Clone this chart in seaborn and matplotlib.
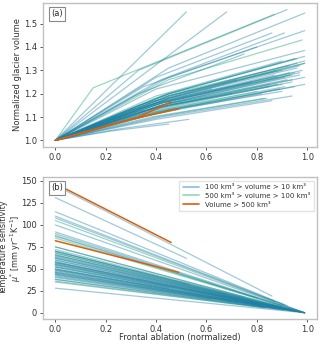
import pandas as pd
import matplotlib
matplotlib.use("Agg")
import matplotlib.pyplot as plt
from matplotlib.lines import Line2D
import seaborn as sns

# 100 km3 > volume > 10 km3
blue_fa_mid = [0.26, 0.34, 0.33, 0.45, 0.40, 0.42, 0.45, 0.40, 0.40, 0.45, 0.40, 0.42, 0.40, 0.35, 0.33,
               0.45, 0.40, 0.42, 0.45, 0.45, 0.42, 0.40, 0.35, 0.45, 0.45, 0.40, 0.42, 0.38, 0.45, 0.42,
               0.40, 0.45, 0.42, 0.45, 0.33, 0.40, 0.45, 0.40, 0.45, 0.26, 0.22, 0.45, 0.40, 0.45, 0.30]
blue_fa_end = [0.52, 0.68, 0.92, 0.99, 0.86, 0.91, 0.99, 0.99, 0.90, 0.97, 0.90, 0.94, 0.86, 0.80, 0.75,
               0.95, 0.88, 0.93, 0.99, 0.97, 0.92, 0.85, 0.78, 0.96, 0.99, 0.89, 0.94, 0.82, 0.98, 0.91,
               0.87, 0.99, 0.93, 0.96, 0.72, 0.90, 0.99, 0.84, 0.95, 0.53, 0.45, 0.99, 0.88, 0.97, 0.62]
blue_vol_mid = [1.275, 1.275, 1.30, 1.31, 1.27, 1.26, 1.27, 1.22, 1.19, 1.18, 1.14, 1.10, 1.09, 1.23, 1.20,
                1.20, 1.17, 1.16, 1.18, 1.16, 1.15, 1.13, 1.14, 1.18, 1.15, 1.12, 1.14, 1.11, 1.17, 1.15,
                1.16, 1.13, 1.16, 1.19, 1.15, 1.12, 1.19, 1.10, 1.13, 1.05, 1.04, 1.20, 1.14, 1.16, 1.13]
blue_vol_end = [1.55, 1.55, 1.56, 1.545, 1.46, 1.46, 1.47, 1.385, 1.34, 1.32, 1.24, 1.19, 1.17, 1.40, 1.37,
                1.35, 1.30, 1.28, 1.33, 1.29, 1.26, 1.23, 1.25, 1.31, 1.27, 1.22, 1.25, 1.20, 1.30, 1.27,
                1.28, 1.24, 1.29, 1.33, 1.26, 1.21, 1.34, 1.18, 1.23, 1.09, 1.07, 1.36, 1.24, 1.28, 1.22]
blue_mu_start = [131, 66, 115, 100, 145, 110, 92, 108, 87, 75, 60, 50, 45, 90, 72,
                 70, 68, 62, 58, 55, 52, 48, 65, 57, 53, 46, 50, 43, 60, 55,
                 47, 40, 58, 62, 44, 38, 64, 36, 42, 70, 52, 28, 49, 56, 41]
blue_mu_end = [62, 21, 8, 0, 19, 9, 0, 0, 8, 1.5, 5.5, 2.5, 6, 17, 17.5,
               2.8, 7.5, 3.8, 0, 1.1, 3.7, 6.8, 13.8, 1.7, 0, 4.6, 2.5, 7.4, 0.6, 4.4,
               5.7, 0, 3.5, 1.9, 12, 3.5, 0, 5.5, 1.7, 32.5, 28.4, 0, 5.4, 1.1, 15.3]

# 500 km3 > volume > 100 km3
green_fa_mid = [0.15, 0.45, 0.42, 0.42, 0.40, 0.40, 0.42, 0.38, 0.45, 0.40, 0.32, 0.42, 0.45, 0.38, 0.42]
green_fa_end = [0.87, 0.98, 0.94, 0.94, 0.90, 0.85, 0.93, 0.80, 0.96, 0.88, 0.70, 0.91, 0.99, 0.83, 0.95]
green_vol_mid = [1.225, 1.26, 1.16, 1.15, 1.18, 1.14, 1.19, 1.12, 1.20, 1.16, 1.12, 1.13, 1.19, 1.10, 1.17]
green_vol_end = [1.54, 1.43, 1.28, 1.26, 1.30, 1.24, 1.32, 1.21, 1.35, 1.27, 1.20, 1.23, 1.33, 1.18, 1.29]
green_mu_start = [105, 88, 75, 70, 85, 63, 68, 57, 54, 49, 44, 38, 66, 35, 46]
green_mu_end = [12.7, 0.9, 3.8, 3.5, 7.7, 8.9, 4.1, 10.9, 1.6, 5.4, 12.9, 3.1, 0, 5.7, 1.9]

# Volume > 500 km3
orange_fa_mid = [0.33, 0.30]
orange_fa_end = [0.46, 0.49]
orange_vol_mid = [1.10, 1.09]
orange_vol_end = [1.165, 1.135]
orange_mu_start = [147, 82]
orange_mu_end = [80, 46]

labels = ["100 km³ > volume > 10 km³", "500 km³ > volume > 100 km³", "Volume > 500 km³"]


def to_frames(cat, fa_mid, fa_end, vol_mid, vol_end, mu_start, mu_end):
    rows_a, rows_b = [], []
    for i in range(len(fa_end)):
        gid = f"{cat}_{i}"
        for j, (x, v) in enumerate(zip([0.0, fa_mid[i], fa_end[i]], [1.0, vol_mid[i], vol_end[i]])):
            rows_a.append({"gid": gid, "step": j, "fa": x, "vol": v})
        for j, (x, m) in enumerate(zip([0.0, fa_end[i]], [mu_start[i], mu_end[i]])):
            rows_b.append({"gid": gid, "step": j, "fa": x, "mu": m})
    return pd.DataFrame(rows_a), pd.DataFrame(rows_b)


blue_a, blue_b = to_frames("b", blue_fa_mid, blue_fa_end, blue_vol_mid, blue_vol_end, blue_mu_start, blue_mu_end)
green_a, green_b = to_frames("g", green_fa_mid, green_fa_end, green_vol_mid, green_vol_end, green_mu_start, green_mu_end)
orange_a, orange_b = to_frames("o", orange_fa_mid, orange_fa_end, orange_vol_mid, orange_vol_end, orange_mu_start, orange_mu_end)

sns.set_style("ticks")
plt.rcParams["font.family"] = ["DejaVu Sans"]
fs = 6

# green drawn first so the blue bundle stays on top, as in the original
styles = [("#45b98c", 0.55, 0.9), ("#1f7fa5", 0.42, 0.9), ("#d95f0e", 1.0, 1.1)]
frames_a = [green_a, blue_a, orange_a]
frames_b = [green_b, blue_b, orange_b]

fig = plt.figure(figsize=(3.2, 3.44), dpi=100)
ax1 = fig.add_axes([0.134, 0.573, 0.857, 0.418])
ax2 = fig.add_axes([0.134, 0.072, 0.857, 0.413])

for df, (c, a, lw) in zip(frames_a, styles):
    sns.lineplot(data=df, x="fa", y="vol", units="gid", estimator=None, sort=False,
                 color=c, alpha=a, lw=lw, ax=ax1, legend=False)
for df, (c, a, lw) in zip(frames_b, styles):
    sns.lineplot(data=df, x="fa", y="mu", units="gid", estimator=None, sort=False,
                 color=c, alpha=a, lw=lw, ax=ax2, legend=False)

ax1.set_yticks([1.0, 1.1, 1.2, 1.3, 1.4, 1.5])
ax2.set_yticks([0, 25, 50, 75, 100, 125, 150])
for ax in (ax1, ax2):
    ax.set_xticks([0.0, 0.2, 0.4, 0.6, 0.8, 1.0])
    for s in ax.spines.values():
        s.set_color("#c0c0c0")
        s.set_linewidth(1.0)
    ax.tick_params(colors="#555555", labelcolor="#333333", labelsize=fs, length=2.5, width=0.7, pad=1.8)

ax1.set_xlabel("")
ax1.set_ylabel("Normalized glacier volume", fontsize=fs, color="#333333")
ax1.yaxis.set_label_coords(-0.075, 0.5)
ax2.set_xlabel("Frontal ablation (normalized)", fontsize=fs, color="#333333")
ax2.xaxis.set_label_coords(0.5, -0.1)
ax2.set_ylabel("Temperature sensitivity\n$\\mu^{*}$ [mm yr$^{-1}$K$^{-1}$]", fontsize=5.8,
               color="#333333", linespacing=1.0)
ax2.yaxis.set_label_coords(-0.074, 0.5)

box = dict(boxstyle="square,pad=0.3", facecolor="white", edgecolor="#888888", lw=0.8)
ax1.text(0.03, 0.925, "(a)", transform=ax1.transAxes, fontsize=fs, va="center", bbox=box)
ax2.text(0.03, 0.925, "(b)", transform=ax2.transAxes, fontsize=fs, va="center", bbox=box)

handles = [Line2D([], [], color="#84c1da", lw=1.2),
           Line2D([], [], color="#93d5b7", lw=1.2),
           Line2D([], [], color="#d95f0e", lw=1.2)]
leg = ax2.legend(handles, labels, loc="upper right", fontsize=5.0, frameon=True,
                 handlelength=2.4, borderpad=0.5, labelspacing=0.4, fancybox=False)
leg.get_frame().set_edgecolor("#dddddd")
for t in leg.get_texts():
    t.set_color("#333333")

fig.savefig("out.png", dpi=100)
